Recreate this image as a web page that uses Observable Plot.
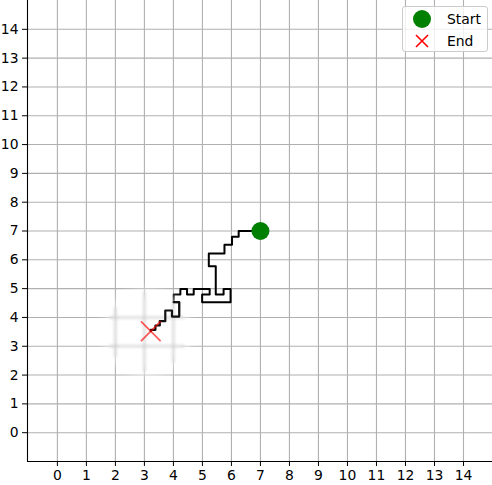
<!DOCTYPE html>
<html><head><meta charset="utf-8">
<script src="https://cdn.jsdelivr.net/npm/d3@7"></script>
<script src="https://cdn.jsdelivr.net/npm/@observablehq/plot@0.6"></script>
<style>
body{margin:0;background:#fff;}
#wrap{position:relative;width:492px;height:485px;overflow:hidden;}
#legend{position:absolute;left:402px;top:6px;width:86px;height:46px;box-sizing:border-box;border:1px solid #cccccc;border-radius:3px;background:rgba(255,255,255,0.8);font-family:"DejaVu Sans";font-size:13.9px;color:#000;}
#legend .row{position:absolute;left:0;height:20px;width:84px;}
#legend svg{position:absolute;left:8px;top:0;}
#legend span{position:absolute;left:44px;top:1px;line-height:18px;}
</style></head><body>
<div id="wrap"><div id="chart"></div><div id="legend"></div></div>
<script>
// ---- data ----
const xTicks = [0,1,2,3,4,5,6,7,8,9,10,11,12,13,14];
const yTicks = [0,1,2,3,4,5,6,7,8,9,10,11,12,13,14];
const xDomain = [-1.03, 15];
const yDomain = [-1, 15];
const pathX = [7.00,6.25,6.25,6.02,6.02,5.76,5.76,5.22,5.22,5.46,5.46,5.73,5.73,5.97,5.97,4.99,4.99,5.25,5.25,4.70,4.70,4.47,4.47,4.24,4.24,4.01,4.01,4.20,4.20,3.95,3.95,3.72,3.72,3.53,3.53,3.38,3.38,3.22,3.22];
const pathY = [7.00,7.00,6.80,6.80,6.52,6.52,6.22,6.22,5.78,5.78,4.80,4.80,4.99,4.99,4.53,4.53,4.80,4.80,4.99,4.99,4.80,4.80,4.99,4.99,4.80,4.80,4.53,4.53,4.03,4.03,4.24,4.24,3.87,3.87,3.72,3.72,3.57,3.57,3.52];
const startPoint = [{x:7.00, y:7.00}];
const endPoint = [{x:3.22, y:3.52}];
const legendLabels = ["Start", "End"];
// blurred patch around the end point
const blurCenter = {x:3.1, y:3.48};
const blurRadius = 1.4;
const tailStart = 26;

const path = pathX.map((x,i)=>({x, y:pathY[i]}));
const tail = path.slice(tailStart);
const vChords = xTicks.filter(k=>Math.abs(k-blurCenter.x)<blurRadius).map(k=>{
  const h=Math.sqrt(blurRadius**2-(k-blurCenter.x)**2); return {x:k,y1:blurCenter.y-h,y2:blurCenter.y+h};});
const hChords = yTicks.filter(k=>Math.abs(k-blurCenter.y)<blurRadius).map(k=>{
  const h=Math.sqrt(blurRadius**2-(k-blurCenter.y)**2); return {y:k,x1:blurCenter.x-h,x2:blurCenter.x+h};});

const chart = Plot.plot({
  width:492, height:485,
  marginLeft:27, marginRight:0, marginTop:0, marginBottom:24,
  style:{fontFamily:"DejaVu Sans", fontSize:"13.9px", background:"white", color:"black", overflow:"visible"},
  x:{domain:xDomain},
  y:{domain:yDomain},
  marks:[
    Plot.ruleX(xTicks,{stroke:"#b0b0b0", strokeWidth:1.1}),
    Plot.ruleY(yTicks,{stroke:"#b0b0b0", strokeWidth:1.1}),
    Plot.line(path,{x:"x", y:"y", stroke:"black", strokeWidth:2, curve:"linear"}),
    Plot.dot(startPoint,{x:"x", y:"y", r:9, fill:"#008000", stroke:"none"}),
    Plot.dot([blurCenter],{x:"x", y:"y", r:41, fill:"white", stroke:"none", ariaDescription:"blur-cover"}),
    Plot.ruleX(vChords,{x:"x", y1:"y1", y2:"y2", stroke:"#c4c4c4", strokeWidth:1.6, ariaDescription:"blur-grid"}),
    Plot.ruleY(hChords,{y:"y", x1:"x1", x2:"x2", stroke:"#c4c4c4", strokeWidth:1.6, ariaDescription:"blur-grid"}),
    Plot.line(tail,{x:"x", y:"y", stroke:"#111", strokeWidth:2.2, ariaDescription:"blur-tail"}),
    Plot.dot(endPoint,{x:"x", y:"y", r:9, symbol:"times", stroke:"red", strokeWidth:1.7, strokeOpacity:0.65, ariaDescription:"blur-end"}),
    Plot.ruleX([xDomain[0]],{stroke:"black", strokeWidth:1.1}),
    Plot.ruleY([yDomain[0]],{stroke:"black", strokeWidth:1.1}),
    Plot.axisX(xTicks,{anchor:"bottom", tickSize:5, tickPadding:4, label:null, tickFormat:d=>String(d)}),
    Plot.axisY(yTicks,{anchor:"left", tickSize:5, tickPadding:4, label:null, tickFormat:d=>String(d)})
  ]
});
document.getElementById("chart").appendChild(chart);
const s = d3.select(chart);
const blurs = {"blur-cover":"blur(6px)", "blur-grid":"blur(1.5px)", "blur-tail":"blur(0.6px)", "blur-end":"blur(0.7px)"};
s.selectAll("g").each(function(){
  const d = this.getAttribute("aria-description");
  if (d && blurs[d]) this.style.filter = blurs[d];
});

// legend
const lg = d3.select("#legend");
legendLabels.forEach((lab,i)=>{
  const row = lg.append("div").attr("class","row").style("top",(i===0?2:24)+"px");
  const sv = row.append("svg").attr("width",24).attr("height",20);
  if(i===0){
    sv.append("circle").attr("cx",11).attr("cy",10).attr("r",9).attr("fill","#008000");
  } else {
    sv.append("path").attr("d","M5,4L17,16M5,16L17,4").attr("stroke","red").attr("stroke-width",1.6);
  }
  row.append("span").text(lab);
});
</script></body></html>
